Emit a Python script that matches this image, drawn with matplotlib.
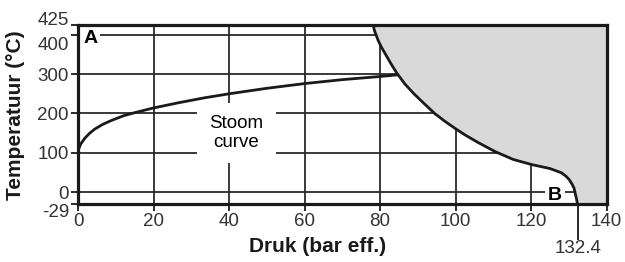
import matplotlib
matplotlib.use("Agg")
import matplotlib.pyplot as plt
import matplotlib.transforms as mtransforms

plt.rcParams["font.family"] = ["Liberation Sans", "DejaVu Sans"]

# steam saturation curve (pressure bar eff., temperature degC)
steam_p = [0, 0.2, 0.7, 1.8, 3.0, 4.4, 6.5, 8.8, 12, 15, 20, 26.5, 33.6, 40, 50, 60, 70, 80, 84.4]
steam_t = [100, 110, 122, 137, 149, 160, 172, 182, 194, 202, 214, 227, 240, 250, 264, 276, 286, 294, 298]

# boundary of the grey area: temperature -> pressure
limit_t = [425, 410, 400, 386, 370, 350, 325, 302, 275, 250, 225, 199, 180, 160, 145,
           126, 103, 83, 70, 60, 49, 40, 32, 20, 10, -15, -29]
limit_p = [78.2, 78.55, 78.95, 79.5, 80.3, 81.5, 83.0, 84.5, 86.6, 89.0, 91.7, 94.6, 97.2,
           100.2, 102.6, 106.0, 110.5, 115.3, 120.2, 125.0, 128.1, 129.3, 130.1, 130.9,
           131.4, 132.0, 132.3]

x_ticks = [0, 20, 40, 60, 80, 100, 120, 140]
y_ticks = [-29, 0, 100, 200, 300, 400, 425]
p_max_end = 132.4

fig = plt.figure(figsize=(6.25, 2.62), dpi=100)
ax = fig.add_axes([78 / 625, 1 - 203.5 / 262, 528.5 / 625, 178.5 / 262])

ax.set_xlim(0, 140)
ax.set_ylim(-29, 425)

grid_kw = dict(color="#2a2a2a", lw=1.3, zorder=1)
for x in x_ticks[1:-1]:
    ax.axvline(x, **grid_kw)
for y in y_ticks[1:-1]:
    ax.axhline(y, **grid_kw)

ax.fill_betweenx(limit_t, limit_p, 140, color="#d9d9d9", zorder=2, lw=0)
ax.plot(limit_p, limit_t, color="#1a1a1a", lw=2, zorder=4, solid_joinstyle="round")
ax.plot(steam_p, steam_t, color="#1a1a1a", lw=2, zorder=4, solid_joinstyle="round")

ax.text(42, 150, "Stoom\ncurve", fontsize=13.5, ha="center", va="center",
        linespacing=1.1, zorder=3,
        bbox=dict(facecolor="white", edgecolor="none", pad=9))
ax.text(3.2, 391, "A", fontsize=14, fontweight="bold", ha="center", va="center",
        zorder=3, bbox=dict(facecolor="white", edgecolor="none", pad=2))
ax.text(126.4, -9, "B", fontsize=14, fontweight="bold", ha="center", va="center",
        zorder=3, bbox=dict(facecolor="white", edgecolor="none", pad=2))

for s in ax.spines.values():
    s.set_linewidth(2.3)
    s.set_color("#1a1a1a")
    s.set_zorder(5)

ax.set_xticks(x_ticks)
ax.set_yticks(y_ticks)
ax.set_yticklabels([str(v) for v in y_ticks])
ax.set_xticks([p_max_end], minor=True)
ax.set_xticklabels([str(p_max_end)], minor=True)
ax.tick_params(which="major", length=5, width=1.3, pad=1.5, labelsize=13.5,
               colors="#1a1a1a", labelcolor="#333333")
ax.tick_params(axis="x", which="minor", length=26, width=1.3, pad=0.5,
               labelsize=13.5, colors="#1a1a1a", labelcolor="#333333")

# nudge the crowded y labels apart, as in the original
shifts = {"425": 5, "400": -6, "-29": -5}
for lab in ax.get_yticklabels():
    dy = shifts.get(lab.get_text(), 0)
    if dy:
        lab.set_transform(lab.get_transform() +
                          mtransforms.ScaledTranslation(0, dy / 72, fig.dpi_scale_trans))

fig.text(317.5 / 625, 1 - 247 / 262, "Druk (bar eff.)", fontsize=15,
         fontweight="bold", ha="center", va="center", color="#1a1a1a")
fig.text(16 / 625, 1 - 115 / 262, "Temperatuur (°C)", fontsize=15,
         fontweight="bold", ha="center", va="center", rotation=90, color="#1a1a1a")

fig.savefig("out.png", dpi=100)
